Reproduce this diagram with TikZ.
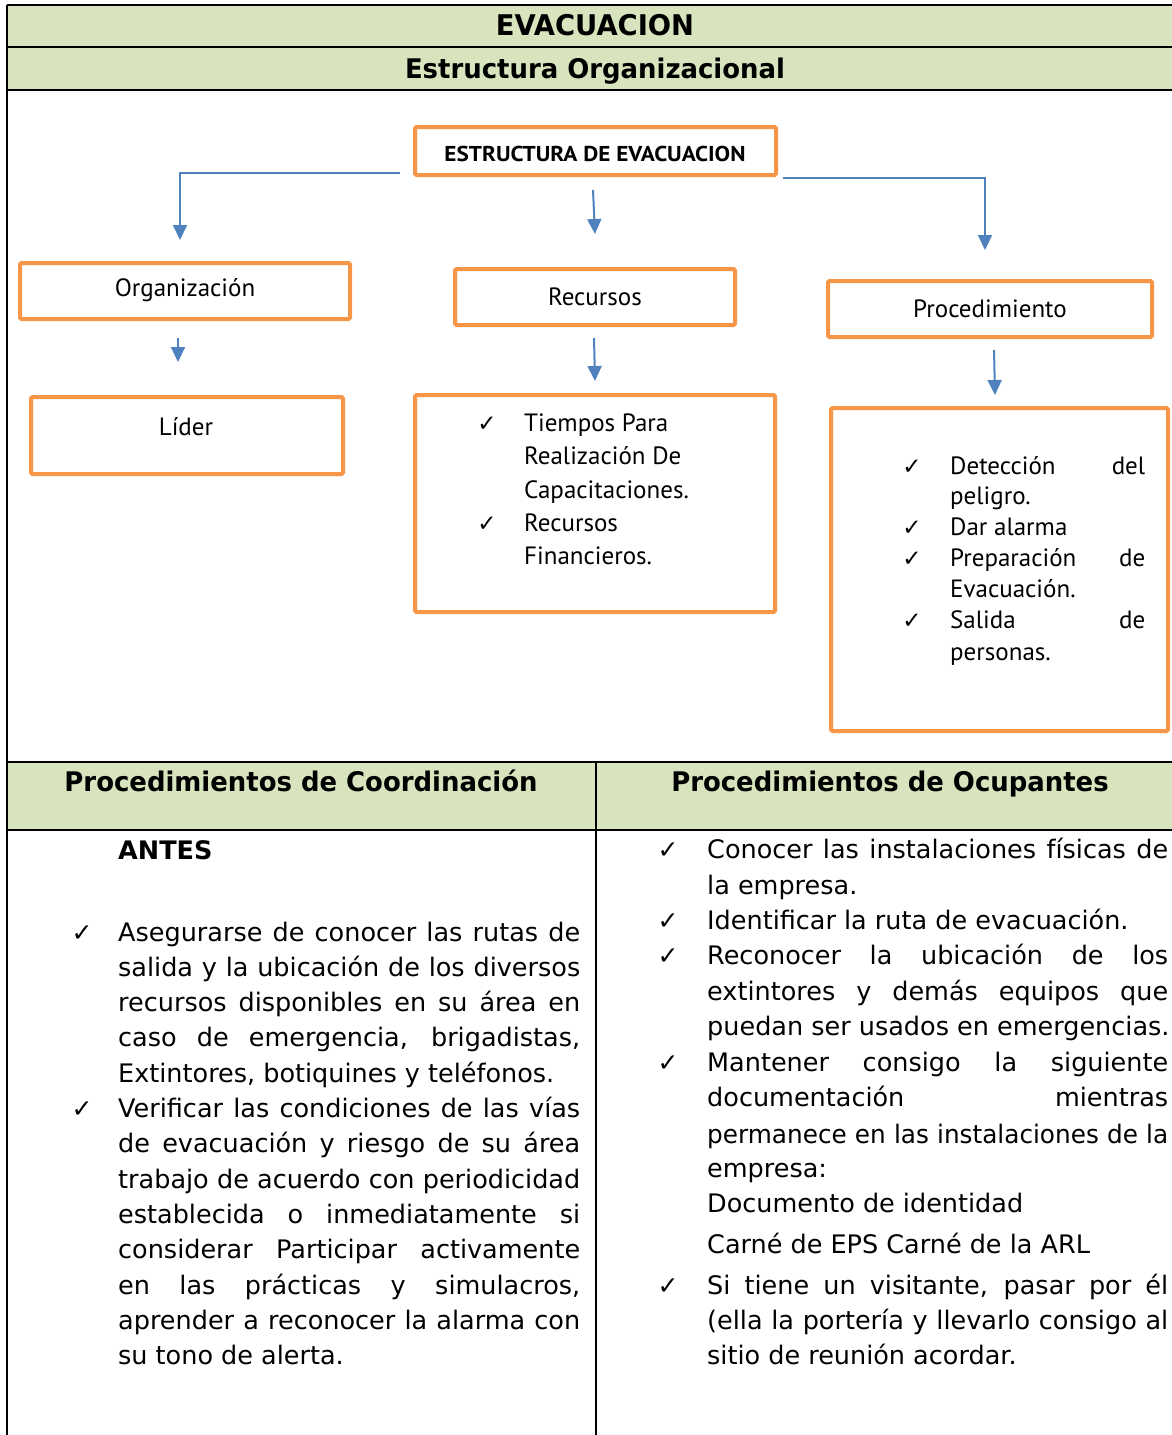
\documentclass[tikz,border=0pt]{standalone}
\usepackage{fontspec}
\setmainfont{DejaVu Sans}
\newfontfamily\hdrf{DejaVu Sans}[FakeStretch=0.96]
\newfontfamily\gill{PT Sans}
\newfontfamily\gillw{PT Sans}[FakeStretch=1.08]
\newfontfamily\symf{DejaVu Sans}
\newfontfamily\bodyn{DejaVu Sans}[FakeStretch=0.97]
\usetikzlibrary{arrows.meta}
\definecolor{hdrgreen}{HTML}{D7E4BD}
\definecolor{boxorange}{HTML}{F79646}
\definecolor{arrowblue}{HTML}{4F81BD}
\newcommand\J[2]{\makebox[#1][s]{#2}}
\begin{document}
\begin{tikzpicture}[x=1pt,y=-1pt,
  obox/.style={draw=boxorange,line width=4pt,rounded corners=1.5pt,inner sep=0pt,fill=white},
  arr/.style={draw=arrowblue,line width=2pt,-{Triangle[width=14pt,length=15pt]}},
  lbl/.style={font=\gill\fontsize{25}{30}\selectfont,inner sep=0pt},
  ttl/.style={font=\gillw\bfseries\fontsize{21.5}{24}\selectfont,inner sep=0pt},
  lst/.style={font=\gill\fontsize{25}{30}\selectfont,inner sep=0pt,anchor=base west},
  lchk/.style={font=\symf\fontsize{23}{24}\selectfont,inner sep=0pt,anchor=base},
  hdr/.style={font=\hdrf\bfseries\fontsize{27}{32}\selectfont,inner sep=0pt,anchor=base},
  body/.style={font=\fontsize{25.5}{30}\selectfont,inner sep=0pt,anchor=base west},
  bchk/.style={font=\symf\fontsize{25}{28}\selectfont,inner sep=0pt,anchor=base},
  rule/.style={draw=black,line width=1.5pt}]
\useasboundingbox (0,0) rectangle (1172,1435);
\clip (0,0) rectangle (1172,1435);
% ---------- table ----------
\fill[hdrgreen] (7,5) rectangle (1190,90);
\fill[hdrgreen] (7,762) rectangle (1190,830);
\draw[rule] (7,5) -- (1190,5);
\draw[draw=black,line width=1.2pt] (7,47) -- (1190,47);
\draw[draw=black,line width=2.4pt] (7,90) -- (1190,90);
\draw[rule] (7,762) -- (1190,762);
\draw[rule] (7,830) -- (1190,830);
\draw[rule] (7,5) -- (7,1440);
\draw[rule] (596,762) -- (596,1440);
\node[hdr,font=\hdrf\bfseries\fontsize{28.5}{32}\selectfont] (t1) at (595,35) {EVACUACION};
\node[hdr] (t2) at (595,78) {Estructura Organizacional};
% ---------- diagram boxes ----------
\node[obox,minimum width=361pt,minimum height=48pt] (estr) at (595.5,151) {};
\node[ttl] (estrT) at (595,154) {ESTRUCTURA DE EVACUACION};
\node[obox,minimum width=330pt,minimum height=56pt] (orgb) at (185,291) {};
\node[lbl] (orgT) at (185,290) {Organización};
\node[obox,minimum width=280pt,minimum height=56pt] (recb) at (595,297) {};
\node[lbl] (recT) at (595,297) {Recursos};
\node[obox,minimum width=324pt,minimum height=56pt] (procb) at (990,309) {};
\node[lbl] (procT) at (990,309) {Procedimiento};
\node[obox,minimum width=312pt,minimum height=77pt] (lidb) at (187,435.5) {};
\node[lbl] (lidT) at (186,427) {Líder};
\node[obox,minimum width=360pt,minimum height=217pt] (reclist) at (595,503.5) {};
\node[obox,minimum width=337pt,minimum height=323pt] (proclist) at (999.5,569.5) {};
% Recursos list
\node[lchk] (rc1) at (487,431) {✓};
\node[lchk] (rc2) at (487,531) {✓};
\node[lst] (rl1) at (524,431) {Tiempos Para};
\node[lst] (rl2) at (524,464) {Realización De};
\node[lst] (rl3) at (524,498) {Capacitaciones.};
\node[lst] (rl4) at (524,531) {Recursos};
\node[lst] (rl5) at (524,564) {Financieros.};
% Procedimiento list
\node[lchk] (pc1) at (912,474) {✓};
\node[lchk] (pc2) at (912,535) {✓};
\node[lchk] (pc3) at (912,566) {✓};
\node[lchk] (pc4) at (912,628) {✓};
\node[lst] (pl1) at (950,474) {\J{195pt}{Detección del}};
\node[lst] (pl2) at (950,504) {peligro.};
\node[lst] (pl3) at (950,535) {Dar alarma};
\node[lst] (pl4) at (950,566) {\J{195pt}{Preparación de}};
\node[lst] (pl5) at (950,597) {Evacuación.};
\node[lst] (pl6) at (950,628) {\J{195pt}{Salida de}};
\node[lst] (pl7) at (950,660) {personas.};
% ---------- arrows ----------
\coordinate (a1s) at (400,173); \coordinate (a1e) at (180,240);
\coordinate (a2s) at (593,190); \coordinate (a2e) at (595,234);
\coordinate (a3s) at (783,178); \coordinate (a3e) at (985,250);
\coordinate (a4s) at (178,338); \coordinate (a4e) at (178,362);
\coordinate (a5s) at (594,338); \coordinate (a5e) at (595,381);
\coordinate (a6s) at (994,350); \coordinate (a6e) at (995,395);
\draw[arr] (a1s) -| (a1e);
\draw[arr] (a2s) -- (a2e);
\draw[arr] (a3s) -| (a3e);
\draw[arr] (a4s) -- (a4e);
\draw[arr] (a5s) -- (a5e);
\draw[arr] (a6s) -- (a6e);
% ---------- lower headers ----------
\node[hdr] (h1) at (301,791) {Procedimientos de Coordinación};
\node[hdr] (h2) at (890,791) {Procedimientos de Ocupantes};
% ---------- left column ----------
\node[body] (antes) at (118,859) {\bfseries ANTES};
\node[bchk] (lc1) at (82,941) {✓};
\node[bchk] (lc2) at (82,1117) {✓};
\node[body] (l1) at (118,941) {\J{462pt}{Asegurarse de conocer las rutas de}};
\node[body] (l2) at (118,976) {\J{462pt}{salida y la ubicación de los diversos}};
\node[body] (l3) at (118,1011) {\J{462pt}{recursos disponibles en su área en}};
\node[body] (l4) at (118,1046) {\J{462pt}{caso de emergencia, brigadistas,}};
\node[body] (l5) at (118,1082) {Extintores, botiquines y teléfonos.};
\node[body] (l6) at (118,1117) {\J{462pt}{Verificar las condiciones de las vías}};
\node[body] (l7) at (118,1152) {\J{462pt}{de evacuación y riesgo de su área}};
\node[body] (l8) at (118,1188) {\J{462pt}{trabajo de acuerdo con periodicidad}};
\node[body] (l9) at (118,1223) {\J{462pt}{establecida o inmediatamente si}};
\node[body] (l10) at (118,1258) {\J{462pt}{considerar Participar activamente}};
\node[body] (l11) at (118,1294) {\J{462pt}{en las prácticas y simulacros,}};
\node[body] (l12) at (118,1329) {\J{462pt}{aprender a reconocer la alarma con}};
\node[body] (l13) at (118,1364) {su tono de alerta.};
% ---------- right column ----------
\node[bchk] (rk1) at (668,858) {✓};
\node[bchk] (rk2) at (668,929) {✓};
\node[bchk] (rk3) at (668,964) {✓};
\node[bchk] (rk4) at (668,1071) {✓};
\node[bchk] (rk5) at (668,1294) {✓};
\node[body] (r1) at (707,858) {\J{461pt}{Conocer las instalaciones físicas de}};
\node[body] (r2) at (707,894) {la empresa.};
\node[body] (r3) at (707,929) {Identificar la ruta de evacuación.};
\node[body] (r4) at (707,964) {\J{461pt}{Reconocer la ubicación de los}};
\node[body] (r5) at (707,1000) {\J{461pt}{extintores y demás equipos que}};
\node[body] (r6) at (707,1035) {puedan ser usados en emergencias.};
\node[body] (r7) at (707,1071) {\J{461pt}{Mantener consigo la siguiente}};
\node[body] (r8) at (707,1106) {\J{461pt}{documentación mientras}};
\node[body,font=\bodyn\fontsize{25.5}{30}\selectfont] (r9) at (707,1143) {\J{461pt}{permanece en las instalaciones de la}};
\node[body] (r10) at (707,1177) {empresa:};
\node[body] (r11) at (707,1212) {Documento de identidad};
\node[body] (r12) at (707,1253) {Carné de EPS Carné de la ARL};
\node[body] (r13) at (707,1294) {\J{461pt}{Si tiene un visitante, pasar por él}};
\node[body] (r14) at (707,1329) {\J{461pt}{(ella la portería y llevarlo consigo al}};
\node[body] (r15) at (707,1364) {sitio de reunión acordar.};
\end{tikzpicture}
\end{document}
